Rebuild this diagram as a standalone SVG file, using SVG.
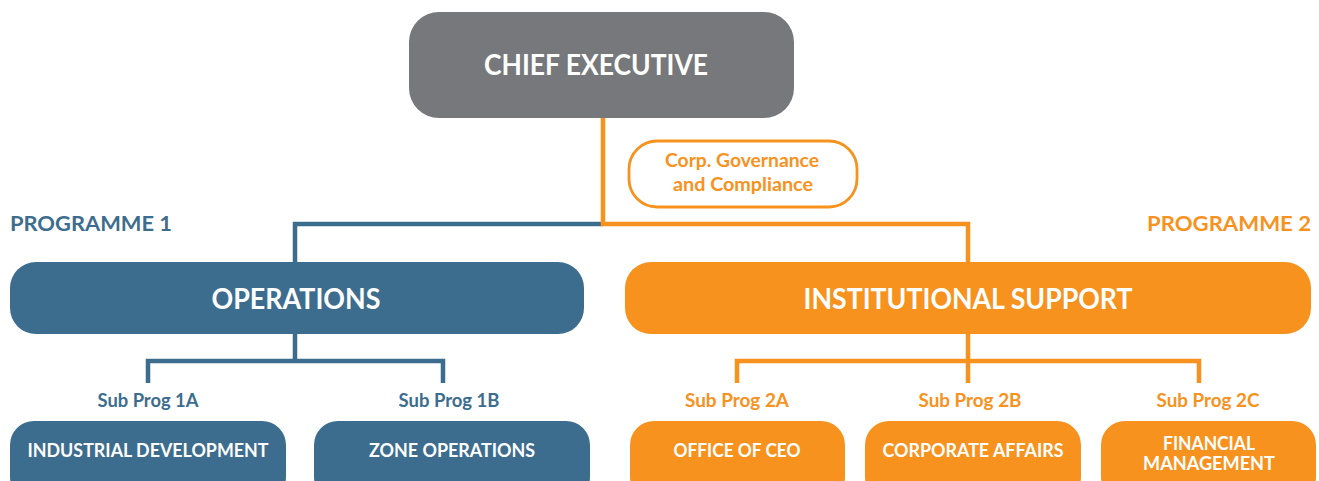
<svg xmlns="http://www.w3.org/2000/svg" width="1319" height="481" viewBox="0 0 1319 481">
  <style>
    text { font-family: Lato, "Open Sans", "Liberation Sans", sans-serif; font-weight: 700; text-anchor: middle; }
    .blue { fill: #3d6d8e; }
    .orange { fill: #f7921e; }
    .grey { fill: #77787b; }
    .white { fill: #ffffff; }
    .lb { fill: none; stroke: #3d6d8e; stroke-width: 4.5; }
    .lo { fill: none; stroke: #f7921e; stroke-width: 4.5; }
    .big { font-size: 28.5px; }
    .mid { font-size: 20px; }
    .sm { font-size: 18px; }
  </style>
  <rect width="1319" height="481" fill="#ffffff"/>

  <!-- connectors -->
  <g id="connectors">
    <polyline class="lb" points="603,224 295,224 295,262"/>
    <polyline class="lo" points="603,118 603,224 968,224 968,262"/>
    <polyline class="lb" points="295,334 295,361"/>
    <polyline class="lb" points="148,383 148,361 443,361 443,383"/>
    <polyline class="lo" points="968,334 968,383"/>
    <polyline class="lo" points="737,383 737,361 1199,361 1199,383"/>
  </g>

  <g id="chief-executive">
    <rect x="409" y="12" width="385" height="106" rx="30" class="grey"/>
    <text x="596" y="75" class="big white" textLength="224" lengthAdjust="spacingAndGlyphs">CHIEF EXECUTIVE</text>
  </g>

  <g id="corp-governance">
    <rect x="629" y="141" width="228" height="66" rx="28" fill="#ffffff" stroke="#f7921e" stroke-width="2.8"/>
    <text x="742" y="167" class="sm orange" textLength="154" lengthAdjust="spacingAndGlyphs">Corp. Governance</text>
    <text x="743" y="191" class="sm orange" textLength="140" lengthAdjust="spacingAndGlyphs">and Compliance</text>
  </g>

  <g id="programme-1">
    <text x="91" y="231" class="mid blue" textLength="162" lengthAdjust="spacingAndGlyphs">PROGRAMME 1</text>
  </g>
  <g id="programme-2">
    <text x="1229" y="231" class="mid orange" textLength="164" lengthAdjust="spacingAndGlyphs">PROGRAMME 2</text>
  </g>

  <g id="operations">
    <rect x="10" y="262" width="574" height="72" rx="26" class="blue"/>
    <text x="296" y="309" class="big white" textLength="169" lengthAdjust="spacingAndGlyphs">OPERATIONS</text>
  </g>

  <g id="institutional-support">
    <rect x="625" y="262" width="686" height="72" rx="26" class="orange"/>
    <text x="968" y="309" class="big white" textLength="329" lengthAdjust="spacingAndGlyphs">INSTITUTIONAL SUPPORT</text>
  </g>

  <g id="industrial-development">
    <text x="148" y="407" class="sm blue" textLength="101" lengthAdjust="spacingAndGlyphs">Sub Prog 1A</text>
    <rect x="10" y="421" width="276" height="80" rx="24" class="blue"/>
    <text x="148" y="457" class="sm white" textLength="241" lengthAdjust="spacingAndGlyphs">INDUSTRIAL DEVELOPMENT</text>
  </g>

  <g id="zone-operations">
    <text x="449" y="407" class="sm blue" textLength="101" lengthAdjust="spacingAndGlyphs">Sub Prog 1B</text>
    <rect x="314" y="421" width="276" height="80" rx="24" class="blue"/>
    <text x="452" y="457" class="sm white" textLength="166" lengthAdjust="spacingAndGlyphs">ZONE OPERATIONS</text>
  </g>

  <g id="office-of-ceo">
    <text x="737" y="407" class="sm orange" textLength="104" lengthAdjust="spacingAndGlyphs">Sub Prog 2A</text>
    <rect x="630" y="421" width="215" height="80" rx="24" class="orange"/>
    <text x="737" y="457" class="sm white" textLength="127" lengthAdjust="spacingAndGlyphs">OFFICE OF CEO</text>
  </g>

  <g id="corporate-affairs">
    <text x="970" y="407" class="sm orange" textLength="103" lengthAdjust="spacingAndGlyphs">Sub Prog 2B</text>
    <rect x="865" y="421" width="216" height="80" rx="24" class="orange"/>
    <text x="973" y="457" class="sm white" textLength="181" lengthAdjust="spacingAndGlyphs">CORPORATE AFFAIRS</text>
  </g>

  <g id="financial-management">
    <text x="1208" y="407" class="sm orange" textLength="103" lengthAdjust="spacingAndGlyphs">Sub Prog 2C</text>
    <rect x="1101" y="421" width="215" height="80" rx="24" class="orange"/>
    <text x="1209" y="450" class="sm white" textLength="92" lengthAdjust="spacingAndGlyphs">FINANCIAL</text>
    <text x="1209" y="470" class="sm white" textLength="132" lengthAdjust="spacingAndGlyphs">MANAGEMENT</text>
  </g>
</svg>
